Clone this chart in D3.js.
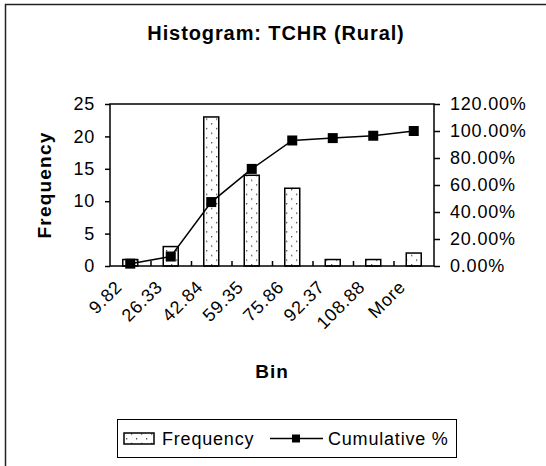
<!DOCTYPE html>
<html>
<head>
<meta charset="utf-8">
<script src="https://cdn.jsdelivr.net/npm/d3@7"></script>
<style>
  body { margin: 0; background: #fff; }
  text { font-family: "Liberation Sans", Arial, sans-serif; fill: #000; }
</style>
</head>
<body>
<div class="chart"></div>
<script>
'use strict';

// Data
const bins = ["9.82", "26.33", "42.84", "59.35", "75.86", "92.37", "108.88", "More"];
const frequency = [1, 3, 23, 14, 12, 1, 1, 2];
const cumulative = [0.0175, 0.0702, 0.4737, 0.7193, 0.9298, 0.9474, 0.9649, 1.0];
const freqTicks = [0, 5, 10, 15, 20, 25];
const pctTicks = [0, 0.2, 0.4, 0.6, 0.8, 1.0, 1.2];

const W = 546, H = 466;
const plot = {left: 110, right: 434, top: 104, bottom: 266};

const svg = d3.select(".chart")
  .append("svg")
  .attr("width", W)
  .attr("height", H);

// pattern for the dotted bars
const pat = svg.append("defs").append("pattern")
  .attr("id", "dots")
  .attr("patternUnits", "userSpaceOnUse")
  .attr("width", 10)
  .attr("height", 9.4);
pat.append("rect").attr("width", 10).attr("height", 9.4).attr("fill", "#fff");
pat.append("rect").attr("x", 1).attr("y", 1).attr("width", 1.3).attr("height", 1.3).attr("fill", "#444");
pat.append("rect").attr("x", 6).attr("y", 5.7).attr("width", 1.3).attr("height", 1.3).attr("fill", "#444");

// chart frame (runs off the right and bottom)
svg.append("rect")
  .attr("x", 5.5).attr("y", 4.5)
  .attr("width", 600).attr("height", 600)
  .attr("fill", "none")
  .attr("stroke", "#222")
  .attr("stroke-width", 1.5);

// title
svg.append("text")
  .attr("x", 276)
  .attr("y", 40)
  .attr("text-anchor", "middle")
  .style("font-size", "20px")
  .style("font-weight", "bold")
  .style("letter-spacing", "0.9px")
  .text("Histogram: TCHR (Rural)");

// scales
const x = d3.scaleBand()
  .domain(bins)
  .range([plot.left, plot.right])
  .paddingInner(0.63)
  .paddingOuter(0.315);
const xEdge = d3.scaleLinear().domain([0, bins.length]).range([plot.left, plot.right]);
const y = d3.scaleLinear().domain([0, 25]).range([plot.bottom, plot.top]);
const y2 = d3.scaleLinear().domain([0, 1.2]).range([plot.bottom, plot.top]);

// bars
svg.selectAll("rect.bar")
  .data(frequency)
  .enter()
  .append("rect")
  .attr("class", "bar")
  .attr("x", (d, i) => x(bins[i]))
  .attr("y", d => y(d))
  .attr("width", x.bandwidth())
  .attr("height", d => y(0) - y(d))
  .attr("fill", "url(#dots)")
  .attr("stroke", "#000")
  .attr("stroke-width", 1.5);

// plot box
svg.append("rect")
  .attr("x", plot.left).attr("y", plot.top)
  .attr("width", plot.right - plot.left)
  .attr("height", plot.bottom - plot.top)
  .attr("fill", "none")
  .attr("stroke", "#000")
  .attr("stroke-width", 1.5);

// left axis
const yAxis = svg.append("g")
  .attr("transform", `translate(${plot.left},0)`)
  .call(d3.axisLeft(y).tickValues(freqTicks).tickSize(5).tickPadding(10));
yAxis.select(".domain").remove();
yAxis.selectAll("line").attr("stroke-width", 1.5);
yAxis.selectAll("text")
  .attr("font-family", null)
  .style("font-size", "18px")
  .style("letter-spacing", "0.8px");

// right axis
const y2Axis = svg.append("g")
  .attr("transform", `translate(${plot.right},0)`)
  .call(d3.axisRight(y2).tickValues(pctTicks).tickSize(6).tickPadding(10)
    .tickFormat(d => (d * 100).toFixed(2) + "%"));
y2Axis.select(".domain").remove();
y2Axis.selectAll("line").attr("stroke-width", 1.5);
y2Axis.selectAll("text")
  .attr("font-family", null)
  .style("font-size", "18px")
  .style("letter-spacing", "0.8px");

// bottom axis: inner ticks at bin edges
const xAxis = svg.append("g")
  .attr("transform", `translate(0,${plot.bottom})`)
  .call(d3.axisBottom(xEdge).tickValues(d3.range(1, bins.length)).tickSize(-5).tickFormat(""));
xAxis.select(".domain").remove();
xAxis.selectAll("line").attr("stroke-width", 1.5);

// category labels, slanted
svg.selectAll("text.bin")
  .data(bins)
  .enter()
  .append("text")
  .attr("class", "bin")
  .attr("text-anchor", "end")
  .attr("transform", d => `translate(${x(d) + x.bandwidth() / 2 - 7},288) rotate(-45)`)
  .style("font-size", "18px")
  .style("letter-spacing", "0.8px")
  .text(d => d);

// axis titles
svg.append("text")
  .attr("x", (plot.left + plot.right) / 2)
  .attr("y", 378)
  .attr("text-anchor", "middle")
  .style("font-size", "19px")
  .style("font-weight", "bold")
  .style("letter-spacing", "1px")
  .text("Bin");
svg.append("text")
  .attr("transform", `translate(51,${(plot.top + plot.bottom) / 2}) rotate(-90)`)
  .attr("text-anchor", "middle")
  .style("font-size", "19px")
  .style("font-weight", "bold")
  .style("letter-spacing", "1.2px")
  .text("Frequency");

// cumulative line
const cx = (d, i) => x(bins[i]) + x.bandwidth() / 2;
svg.append("path")
  .datum(cumulative)
  .attr("fill", "none")
  .attr("stroke", "#000")
  .attr("stroke-width", 1.5)
  .attr("d", d3.line().x(cx).y(d => y2(d)));
svg.selectAll("rect.pt")
  .data(cumulative)
  .enter()
  .append("rect")
  .attr("class", "pt")
  .attr("x", (d, i) => cx(d, i) - 5)
  .attr("y", d => y2(d) - 5)
  .attr("width", 10)
  .attr("height", 10)
  .attr("fill", "#000");

// legend
const lg = svg.append("g");
lg.append("rect")
  .attr("x", 117.5).attr("y", 419.5)
  .attr("width", 339).attr("height", 38)
  .attr("fill", "#fff")
  .attr("stroke", "#000")
  .attr("stroke-width", 1);
lg.append("rect")
  .attr("x", 124).attr("y", 433)
  .attr("width", 30).attr("height", 11)
  .attr("fill", "url(#dots)")
  .attr("stroke", "#000")
  .attr("stroke-width", 1.5);
lg.append("text")
  .attr("x", 162).attr("y", 445)
  .style("font-size", "18px")
  .style("letter-spacing", "0.8px")
  .text("Frequency");
lg.append("line")
  .attr("x1", 270).attr("x2", 323)
  .attr("y1", 438.5).attr("y2", 438.5)
  .attr("stroke", "#000")
  .attr("stroke-width", 1.5);
lg.append("rect")
  .attr("x", 292).attr("y", 434.5)
  .attr("width", 8).attr("height", 8)
  .attr("fill", "#000");
lg.append("text")
  .attr("x", 328).attr("y", 445)
  .style("font-size", "18px")
  .style("letter-spacing", "0.8px")
  .text("Cumulative %");
</script>
</body>
</html>
